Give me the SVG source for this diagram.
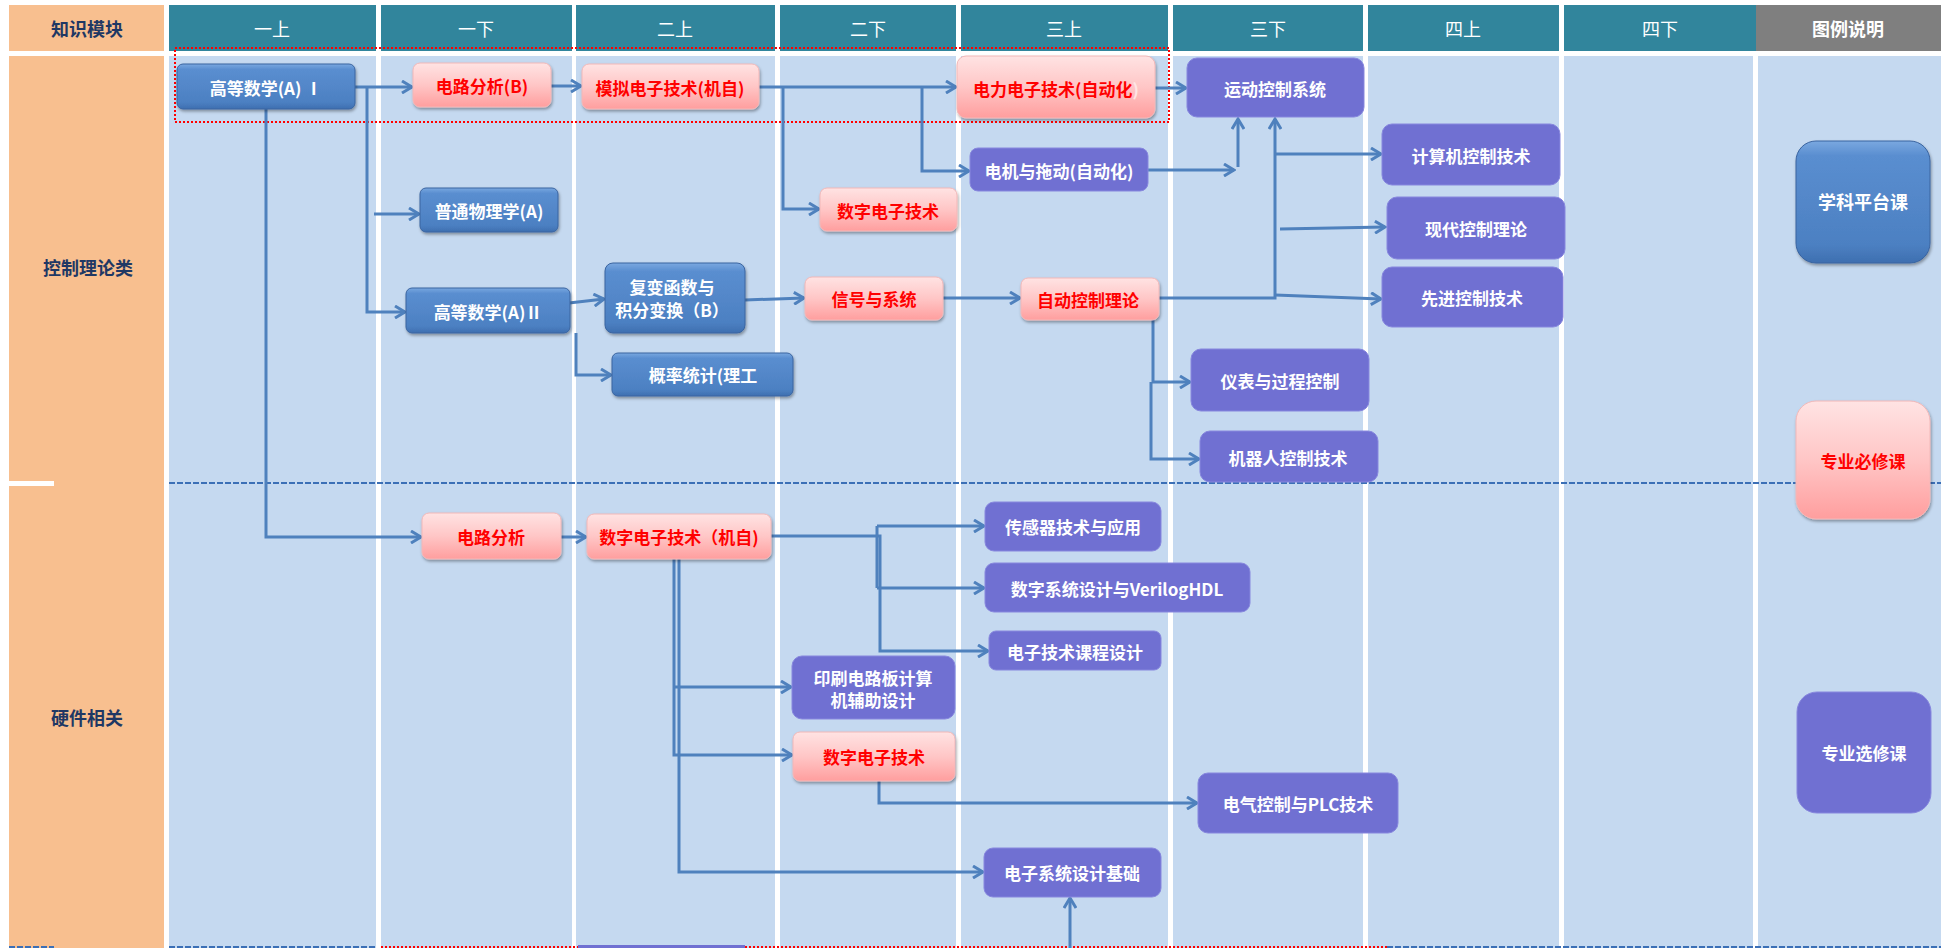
<svg xmlns="http://www.w3.org/2000/svg" width="1948" height="948" viewBox="0 0 1948 948">
<style>
text{font-family:"Noto Sans CJK SC","Liberation Sans",sans-serif;text-anchor:middle;dominant-baseline:central}
.hd{fill:#fff;font-size:18px}
.hdb{fill:#fff;font-size:18px;font-weight:bold}
.mod{fill:#1f3864;font-size:18px;font-weight:bold}
.bg{fill:#c5d9f0}
.teal{fill:#31859c}
.blue{fill:url(#gb);stroke:#3a64a0;stroke-width:1;filter:url(#sh)}
.pink{fill:url(#gp);stroke:#f2b8b8;stroke-width:1;filter:url(#sh)}
.purp{fill:#7070d2;stroke:#8787de;stroke-width:1}
.tw{fill:#fff;font-size:17px;font-weight:bold}
.tr{fill:#ff0000;font-size:17px;font-weight:bold}
.cn{fill:none;stroke:#4f81bd;stroke-width:3;marker-end:url(#ar)}
.ln{fill:none;stroke:#4f81bd;stroke-width:3}
</style>
<defs>
<linearGradient id="gb" x1="0" y1="0" x2="0" y2="1">
<stop offset="0" stop-color="#7aa8e0"/><stop offset="0.12" stop-color="#5a8ed0"/><stop offset="0.85" stop-color="#4c80c2"/><stop offset="1" stop-color="#3e6fb0"/>
</linearGradient>
<linearGradient id="gp" x1="0" y1="0" x2="0" y2="1">
<stop offset="0" stop-color="#ffe3e3"/><stop offset="0.5" stop-color="#ffc6c6"/><stop offset="1" stop-color="#ff9e9e"/>
</linearGradient>
<filter id="sh" x="-10%" y="-10%" width="120%" height="130%">
<feDropShadow dx="1" dy="2" stdDeviation="1.5" flood-color="#000" flood-opacity="0.35"/>
</filter>
<marker id="ar" viewBox="0 0 14 14" markerWidth="14" markerHeight="14" refX="12" refY="7" orient="auto" markerUnits="userSpaceOnUse">
<path d="M2,1 L12,7 L2,13" fill="none" stroke="#4f81bd" stroke-width="3"/>
</marker>
</defs>
<rect width="1948" height="948" fill="#fff"/>
<g id="grid">
<rect x="9" y="5" width="155" height="46" fill="#f8bf8f"/>
<rect x="9" y="56" width="155" height="892" fill="#f8bf8f"/>
<rect x="9" y="481" width="45" height="5" fill="#fff"/>
<rect class="teal" x="169" y="5" width="207" height="46"/>
<rect class="teal" x="381" y="5" width="191" height="46"/>
<rect class="teal" x="576" y="5" width="199" height="46"/>
<rect class="teal" x="780" y="5" width="176" height="46"/>
<rect class="teal" x="961" y="5" width="207" height="46"/>
<rect class="teal" x="1173" y="5" width="190" height="46"/>
<rect class="teal" x="1368" y="5" width="191" height="46"/>
<rect class="teal" x="1564" y="5" width="192" height="46"/>
<rect x="1756" y="5" width="185" height="46" fill="#7f7f7f"/>
<rect class="bg" x="169" y="56" width="207" height="892"/>
<rect class="bg" x="381" y="56" width="191" height="892"/>
<rect class="bg" x="576" y="56" width="199" height="892"/>
<rect class="bg" x="780" y="56" width="176" height="892"/>
<rect class="bg" x="961" y="56" width="207" height="892"/>
<rect class="bg" x="1173" y="56" width="190" height="892"/>
<rect class="bg" x="1368" y="56" width="191" height="892"/>
<rect class="bg" x="1564" y="56" width="189" height="892"/>
<rect class="bg" x="1758" y="56" width="183" height="892"/>
<text class="mod" x="87" y="28">知识模块</text>
<text class="hd" x="272" y="28">一上</text>
<text class="hd" x="476" y="28">一下</text>
<text class="hd" x="675" y="28">二上</text>
<text class="hd" x="868" y="28">二下</text>
<text class="hd" x="1064" y="28">三上</text>
<text class="hd" x="1268" y="28">三下</text>
<text class="hd" x="1463" y="28">四上</text>
<text class="hd" x="1660" y="28">四下</text>
<text class="hdb" x="1848" y="28">图例说明</text>
<text class="mod" x="88" y="267">控制理论类</text>
<text class="mod" x="87" y="717">硬件相关</text>
<line x1="169" y1="483" x2="1941" y2="483" stroke="#3b6fb6" stroke-width="2" stroke-dasharray="6 2"/>
<rect x="175" y="48" width="994" height="74" fill="none" stroke="#ff0000" stroke-width="2" stroke-dasharray="2 2"/>
<line x1="9" y1="947" x2="54" y2="947" stroke="#3b6fb6" stroke-width="2" stroke-dasharray="6 2"/>
<line x1="169" y1="947" x2="376" y2="947" stroke="#3b6fb6" stroke-width="2" stroke-dasharray="6 2"/>
<line x1="381" y1="947" x2="1387" y2="947" stroke="#ff0000" stroke-width="2" stroke-dasharray="2 2"/>
<line x1="1387" y1="947" x2="1941" y2="947" stroke="#3b6fb6" stroke-width="2" stroke-dasharray="6 2"/>
<rect x="578" y="945" width="167" height="3" fill="#7070d2"/>
</g>
<g id="connectors">
<path class="cn" d="M355,87 H412"/>
<path class="cn" d="M367,87 V312 H405"/>
<path class="cn" d="M374,214 H419"/>
<path class="cn" d="M266,109 V537 H421"/>
<path class="cn" d="M551,86 H581"/>
<path class="cn" d="M759,87 H956"/>
<path class="cn" d="M783,87 V209 H819"/>
<path class="cn" d="M922,87 V171 H969"/>
<path class="cn" d="M1155,88 H1186"/>
<path class="cn" d="M1148,170 H1234"/>
<path class="cn" d="M1238,167 V119"/>
<path class="cn" d="M1159,298 H1275 V119"/>
<path class="cn" d="M1275,154 H1381"/>
<path class="cn" d="M1280,229 L1385,227"/>
<path class="cn" d="M1275,295 L1381,299"/>
<path class="cn" d="M569,303 L604,299"/>
<path class="cn" d="M576,333 V375 H611"/>
<path class="cn" d="M745,300 L804,298"/>
<path class="cn" d="M943,298 H1020"/>
<path class="cn" d="M1153,293 V382 H1190"/>
<path class="cn" d="M1151,382 V459 H1199"/>
<path class="cn" d="M561,537 H586"/>
<path class="cn" d="M771,536 H880 V651 H988"/>
<path class="ln" d="M877,526 V588"/>
<path class="cn" d="M877,526 H984"/>
<path class="cn" d="M877,588 H984"/>
<path class="cn" d="M674,559 V755 H792"/>
<path class="cn" d="M674,687 H791"/>
<path class="cn" d="M679,559 V872 H983"/>
<path class="cn" d="M879,781 V803 H1197"/>
<path class="cn" d="M1070,948 V898"/>
</g>
<g id="n1"><rect class="blue" x="177" y="64" width="178" height="45" rx="6"/><text class="tw" x="266" y="87">高等数学(A) Ⅰ</text></g>
<g id="n2"><rect class="blue" x="420" y="188" width="138" height="44" rx="6"/><text class="tw" x="489" y="210">普通物理学(A)</text></g>
<g id="n3"><rect class="blue" x="406" y="288" width="164" height="45" rx="6"/><text class="tw" x="488" y="311">高等数学(A)Ⅱ</text></g>
<g id="n4"><rect class="blue" x="605" y="263" width="140" height="70" rx="8"/><text class="tw" x="672" y="286">复变函数与</text><text class="tw" x="672" y="309">积分变换（B）</text></g>
<g id="n5"><rect class="blue" x="612" y="353" width="181" height="43" rx="6"/><text class="tw" x="703" y="374">概率统计(理工</text></g>
<g id="n6"><rect class="pink" x="413" y="63" width="138" height="44" rx="7"/><text class="tr" x="482" y="85">电路分析(B)</text></g>
<g id="n7"><rect class="pink" x="582" y="64" width="177" height="45" rx="7"/><text class="tr" x="670" y="87">模拟电子技术(机自)</text></g>
<g id="n8"><rect class="pink" x="957" y="56" width="198" height="62" rx="9"/><text class="tr" x="1056" y="88">电力电子技术(自动化<tspan style="fill:#ffe6e6">)</tspan></text></g>
<g id="n9"><rect class="pink" x="820" y="188" width="137" height="43" rx="7"/><text class="tr" x="888" y="210">数字电子技术</text></g>
<g id="n10"><rect class="pink" x="805" y="277" width="138" height="43" rx="7"/><text class="tr" x="874" y="298">信号与系统</text></g>
<g id="n11"><rect class="pink" x="1021" y="278" width="138" height="42" rx="7"/><text class="tr" x="1088" y="299">自动控制理论</text></g>
<g id="n12"><rect class="pink" x="422" y="513" width="139" height="46" rx="7"/><text class="tr" x="491" y="536">电路分析</text></g>
<g id="n13"><rect class="pink" x="587" y="514" width="184" height="45" rx="7"/><text class="tr" x="679" y="536">数字电子技术（机自)</text></g>
<g id="n14"><rect class="pink" x="793" y="732" width="162" height="49" rx="7"/><text class="tr" x="874" y="756">数字电子技术</text></g>
<g id="n15"><rect class="purp" x="1187" y="58" width="177" height="59" rx="10"/><text class="tw" x="1275" y="88">运动控制系统</text></g>
<g id="n16"><rect class="purp" x="970" y="148" width="178" height="43" rx="8"/><text class="tw" x="1059" y="170">电机与拖动(自动化)</text></g>
<g id="n17"><rect class="purp" x="1382" y="124" width="178" height="61" rx="10"/><text class="tw" x="1471" y="155">计算机控制技术</text></g>
<g id="n18"><rect class="purp" x="1387" y="197" width="178" height="62" rx="10"/><text class="tw" x="1476" y="228">现代控制理论</text></g>
<g id="n19"><rect class="purp" x="1382" y="267" width="181" height="60" rx="10"/><text class="tw" x="1472" y="297">先进控制技术</text></g>
<g id="n20"><rect class="purp" x="1191" y="349" width="178" height="62" rx="10"/><text class="tw" x="1280" y="380">仪表与过程控制</text></g>
<g id="n21"><rect class="purp" x="1200" y="431" width="178" height="51" rx="10"/><text class="tw" x="1288" y="457">机器人控制技术</text></g>
<g id="n22"><rect class="purp" x="985" y="502" width="176" height="49" rx="9"/><text class="tw" x="1073" y="526">传感器技术与应用</text></g>
<g id="n23"><rect class="purp" x="985" y="563" width="265" height="49" rx="9"/><text class="tw" x="1117" y="588">数字系统设计与VerilogHDL</text></g>
<g id="n24"><rect class="purp" x="989" y="631" width="172" height="39" rx="7"/><text class="tw" x="1075" y="651">电子技术课程设计</text></g>
<g id="n25"><rect class="purp" x="792" y="656" width="163" height="63" rx="10"/><text class="tw" x="873" y="677">印刷电路板计算</text><text class="tw" x="873" y="699">机辅助设计</text></g>
<g id="n26"><rect class="purp" x="1198" y="773" width="200" height="60" rx="10"/><text class="tw" x="1298" y="803">电气控制与PLC技术</text></g>
<g id="n27"><rect class="purp" x="984" y="848" width="177" height="49" rx="9"/><text class="tw" x="1072" y="872">电子系统设计基础</text></g>
<g id="legend-platform"><rect class="blue" x="1796" y="141" width="134" height="122" rx="20"/><text class="tw" x="1863" y="201" style="font-size:18px">学科平台课</text></g>
<g id="legend-required"><rect class="pink" x="1796" y="401" width="134" height="118" rx="20"/><text class="tr" x="1863" y="460">专业必修课</text></g>
<g id="legend-elective"><rect class="purp" x="1797" y="692" width="134" height="121" rx="20"/><text class="tw" x="1864" y="752">专业选修课</text></g>
</svg>
